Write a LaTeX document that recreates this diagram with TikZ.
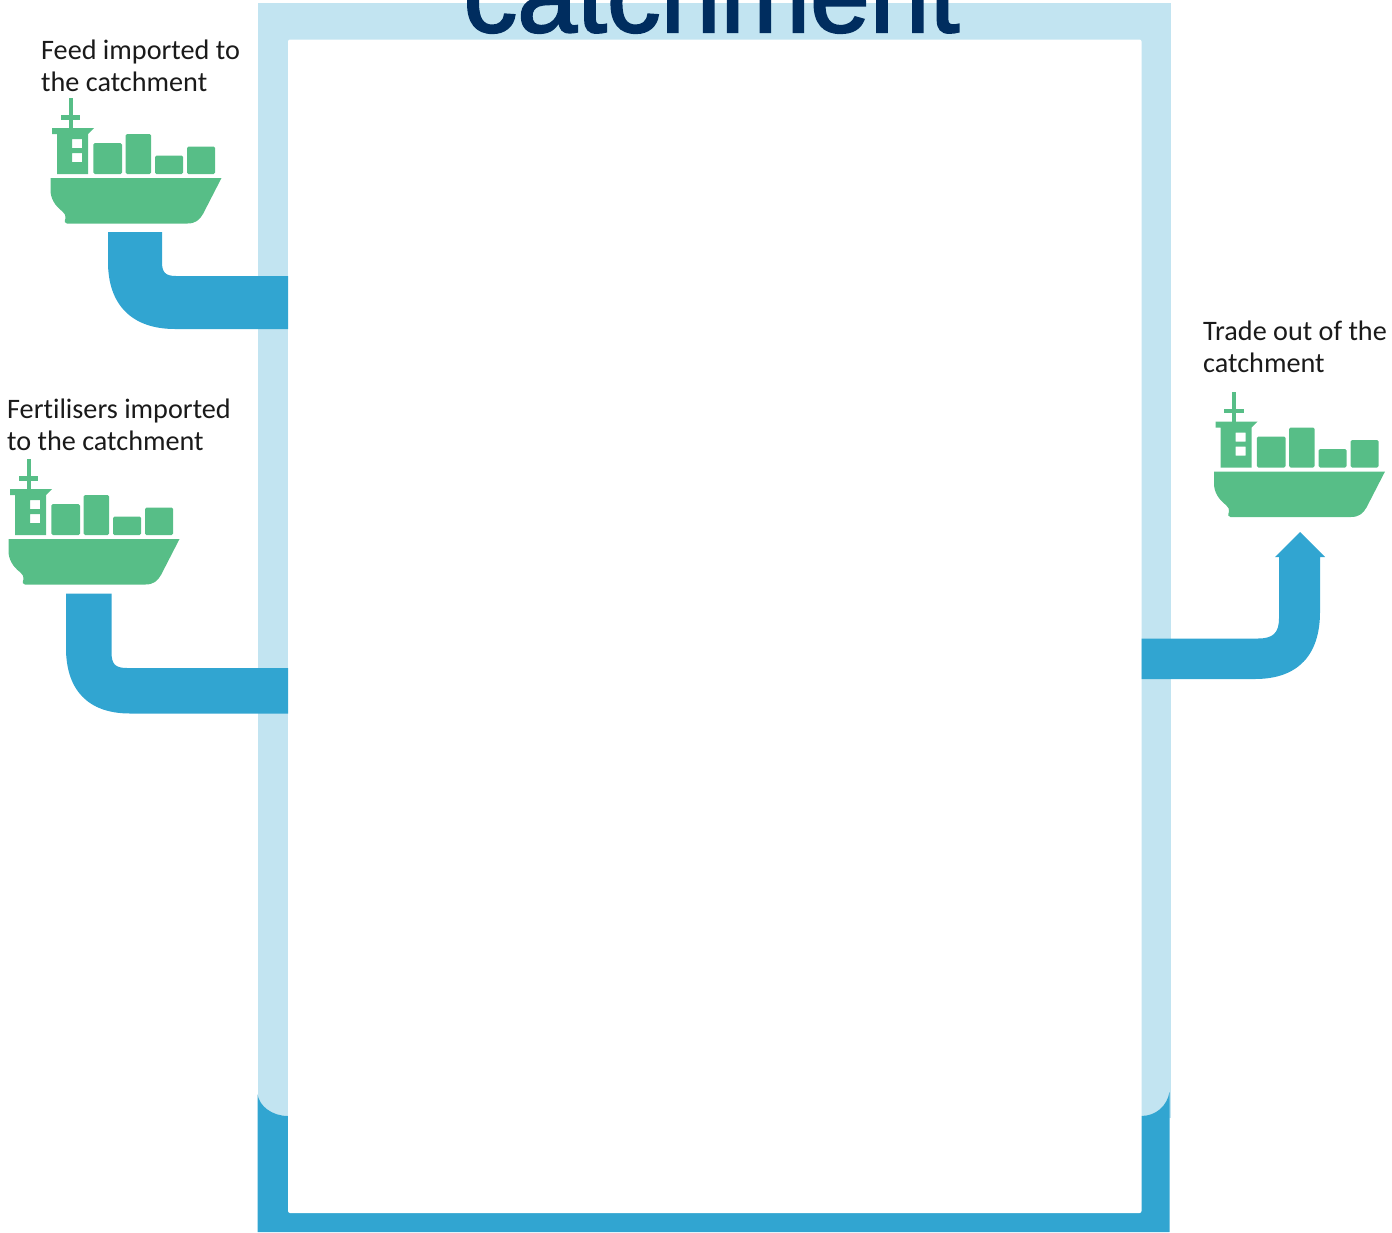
\documentclass[tikz,border=0pt]{standalone}
\usepackage{fontspec}
\setmainfont{Carlito}[Ligatures=CommonOff]
\newfontfamily\titlefont{Liberation Sans}[FakeBold=2]
\definecolor{framelight}{HTML}{C2E4F1}
\definecolor{pipeblue}{HTML}{31A5D1}
\definecolor{shipgreen}{HTML}{57BE87}
\definecolor{titleblue}{HTML}{002D5F}
\definecolor{labelink}{HTML}{1A1A1A}
\tikzset{
  pipe/.style={fill=pipeblue,draw=none},
  labeltext/.style={anchor=north west,inner sep=0pt,align=left,text=labelink,font=\fontsize{28.2}{32}\selectfont},
  ship/.pic={
    \begin{scope}[fill=shipgreen,draw=none]
      % mast, crossbar
      \fill (18,0) rectangle (22,30);
      \fill (10.3,17.3) rectangle (29.7,21.7);
      % bridge and tower, with two windows
      \fill[even odd rule] (1.5,30) -- (43.5,30) -- (37.5,36) -- (37.5,76) -- (6.5,76) -- (6.5,36) -- (1.5,36) -- cycle
        (21.5,41) rectangle (31.5,50)
        (21.5,55) rectangle (31.5,64);
      % containers
      \fill[rounded corners=1.5pt] (42.8,76) -- (42.8,45) -- (71.5,45) -- (71.5,76) -- cycle;
      \fill[rounded corners=1.5pt] (75.2,76) -- (75.2,36) -- (100.7,36) -- (100.7,76) -- cycle;
      \fill[rounded corners=1.5pt] (104.5,76) -- (104.5,57.5) -- (132.7,57.5) -- (132.7,76) -- cycle;
      \fill[rounded corners=1.5pt] (136.5,76) -- (136.5,48.5) -- (164.7,48.5) -- (164.7,76) -- cycle;
      % hull
      \fill (0,80) -- (171,80) -- (152.5,116)
        .. controls (149,122) and (145,125.5) .. (137,125.5)
        -- (16.5,125.5) .. controls (14,125.5) and (13.5,123.5) .. (15,120.5)
        .. controls (15.5,118) and (14.5,115.5) .. (12,113.5)
        .. controls (4,107.5) and (0,100) .. (0,92) -- cycle;
    \end{scope}
  }
}
\begin{document}
\begin{tikzpicture}[x=1pt,y=-1pt]
\useasboundingbox (0,0) rectangle (1392,1232);
\clip (0,0) rectangle (1392,1232);
% catchment frame
\fill[framelight] (258,3) rectangle (1171,1118);
\fill[pipeblue] (257.5,1232) -- (257.5,1094)
  .. controls (259,1106) and (272,1116) .. (288,1116)
  -- (1141,1116) .. controls (1156,1116) and (1167,1106) .. (1169.5,1092)
  -- (1169.5,1232) -- cycle;
\fill[white,rounded corners=2pt] (288,39.5) rectangle (1141.5,1213);
\node[inner sep=0pt,anchor=base,text=titleblue,font=\titlefont\fontsize{107.5}{108}\selectfont] (title) at (711.5,32) {catchment};
% pipes
\path[pipe] (108,232) -- (162,232) -- (162,262)
  .. controls (162,272) and (165,276) .. (176,276)
  -- (288,276) -- (288,329) -- (175,329)
  .. controls (132,329) and (108,305) .. (108,262) -- cycle;
\path[pipe] (66,593.5) -- (111.5,593.5) -- (111.5,652)
  .. controls (111.5,664) and (115,668) .. (127,668)
  -- (288,668) -- (288,713.5) -- (130,713.5)
  .. controls (88,713.5) and (66,690) .. (66,648) -- cycle;
\path[pipe] (1141.5,638.5) -- (1258,638.5)
  .. controls (1273,638.5) and (1279,633) .. (1279,618)
  -- (1279,557) -- (1275,557) -- (1300,532) -- (1325,557) -- (1320,557)
  -- (1320,612) .. controls (1320,655) and (1298,679) .. (1255,679)
  -- (1141.5,679) -- cycle;
% ships
\pic at (50.5,98) {ship};
\pic at (8.5,459) {ship};
\pic at (1214,391.5) {ship};
% labels
\node[labeltext] (feed) at (41,39.5) {Feed imported to\\the catchment};
\node[labeltext] (fert) at (7,398.5) {Fertilisers imported\\to the catchment};
\node[labeltext] (trade) at (1203,320.5) {Trade out of the\\catchment};
\end{tikzpicture}
\end{document}
